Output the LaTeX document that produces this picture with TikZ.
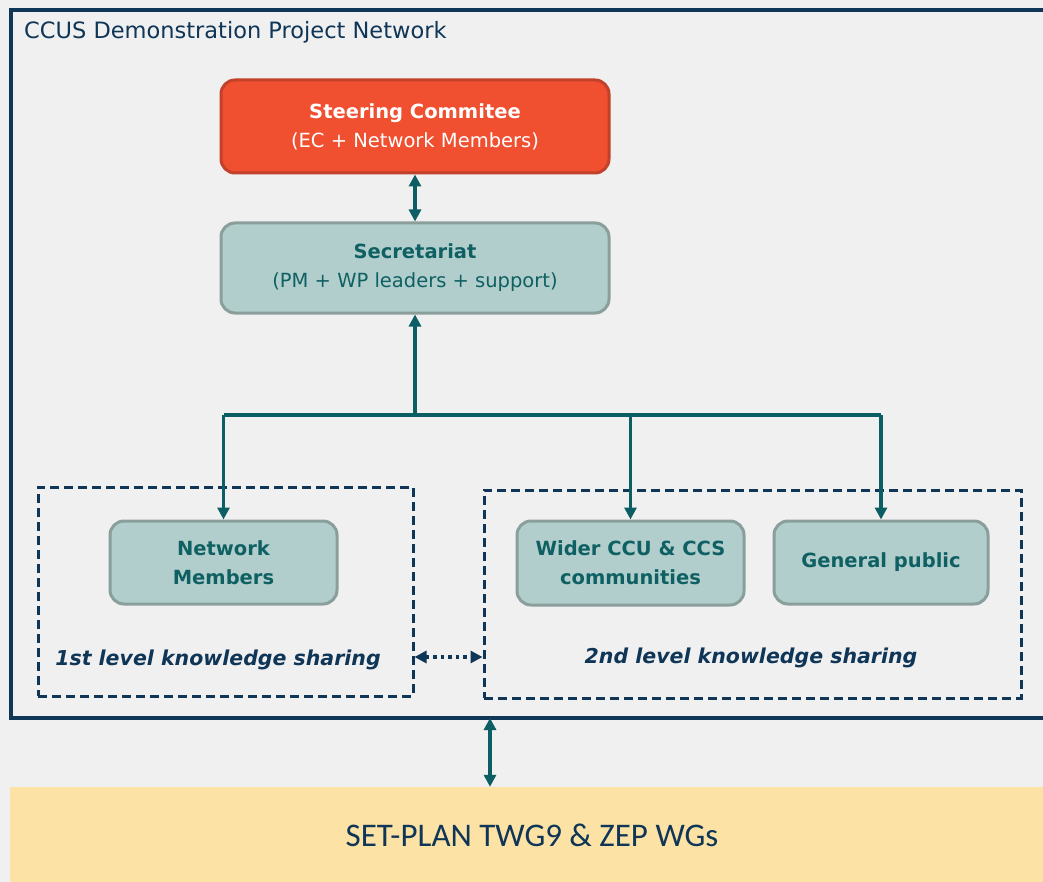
\documentclass[tikz,border=0pt]{standalone}
\usepackage{fontspec}
\setmainfont{DejaVu Sans}
\newfontfamily\calib{Carlito}
\usetikzlibrary{arrows.meta}
\definecolor{bg}{HTML}{F0F0F0}
\definecolor{navy}{HTML}{0F3557}
\definecolor{tealtxt}{HTML}{0E6062}
\definecolor{tealln}{HTML}{0B5E63}
\definecolor{boxfill}{HTML}{B2CECC}
\definecolor{boxdraw}{HTML}{8A9F9C}
\definecolor{redfill}{HTML}{F04F30}
\definecolor{reddraw}{HTML}{C2412A}
\definecolor{yel}{HTML}{FDE2A5}
\tikzset{
  tip/.tip={Triangle[length=12pt,width=12pt]},
  greenbox/.style={draw=boxdraw, fill=boxfill, line width=3pt, rounded corners=14pt,
    text=tealtxt, align=center, font=\fontsize{19.5}{29}\selectfont, inner sep=0pt},
  redbox/.style={greenbox, draw=reddraw, fill=redfill, text=white},
  dashbox/.style={draw=navy, line width=3pt, dash pattern=on 9pt off 5pt, inner sep=0pt},
  lvl/.style={text=navy, font=\fontsize{20.5}{24}\selectfont\bfseries\itshape, inner sep=0pt},
  tarrow/.style={draw=tealln, line width=3.8pt, -tip},
  tline/.style={draw=tealln, line width=3.8pt},
  darrow/.style={draw=navy, line width=3.5pt, dash pattern=on 3.5pt off 4pt, tip-tip},
}
\begin{document}
\begin{tikzpicture}[x=1pt,y=-1pt]
\fill[bg] (0,0) rectangle (1043,882);
\useasboundingbox (0,0) rectangle (1043,882);
% outer frame (cut at right)
\draw[navy, line width=3.2pt] (1043,10) -- (11,10) -- (11,718) -- (1043,718);
\node[anchor=west, text=navy, font=\fontsize{22.5}{26}\selectfont, inner sep=0pt] (title) at (24,32) {CCUS Demonstration Project Network};
% yellow bottom band
\node[fill=yel, minimum width=1060pt, minimum height=95pt, inner sep=0pt] (setbox) at (540,834.5) {};
\node[text=navy, font=\calib\fontsize{33}{36}\selectfont, inner sep=0pt] (settxt) at (532,835) {SET-PLAN TWG9 \& ZEP WGs};
% main boxes
\node[redbox, minimum width=388pt, minimum height=93pt] (steer) at (415,126.5) {{\bfseries Steering Commitee}\\(EC + Network Members)};
\node[greenbox, minimum width=388pt, minimum height=90pt] (sec) at (415,268) {{\bfseries Secretariat}\\(PM + WP leaders + support)};
% dashed groups
\node[dashbox, minimum width=375pt, minimum height=209pt] (d1) at (225.5,591.5) {};
\node[dashbox, minimum width=537pt, minimum height=208pt] (d2) at (752.5,594) {};
\node[greenbox, font=\fontsize{19.5}{29}\selectfont\bfseries, minimum width=227pt, minimum height=83pt] (nm) at (223.5,562.5) {Network\\Members};
\node[greenbox, font=\fontsize{19.5}{29}\selectfont\bfseries, minimum width=227pt, minimum height=84pt] (wider) at (630.5,563) {Wider CCU \& CCS\\communities};
\node[greenbox, font=\fontsize{19.5}{29}\selectfont\bfseries, minimum width=214pt, minimum height=83pt] (gp) at (881,562.5) {General public};
\node[lvl] (l1) at (218,660) {1st level knowledge sharing};
\node[lvl] (l2) at (751,658) {2nd level knowledge sharing};
% connectors
\draw[tarrow, tip-tip] (steer) -- (sec);
\coordinate (j) at (415,415);
\draw[tarrow] (j) -- (sec.south);
\draw[tline] (nm.north |- j) -- (gp.north |- j);
\draw[tarrow] (nm.north |- j) -- (nm.north);
\draw[tarrow] (wider.north |- j) -- (wider.north);
\draw[tarrow] (gp.north |- j) -- (gp.north);
\coordinate (dy) at (0,657);
\draw[darrow] (d1.east |- dy) -- (d2.west |- dy);
\coordinate (fb) at (490,718);
\draw[tarrow, tip-tip] (fb) -- (fb |- setbox.north);
\end{tikzpicture}
\end{document}
